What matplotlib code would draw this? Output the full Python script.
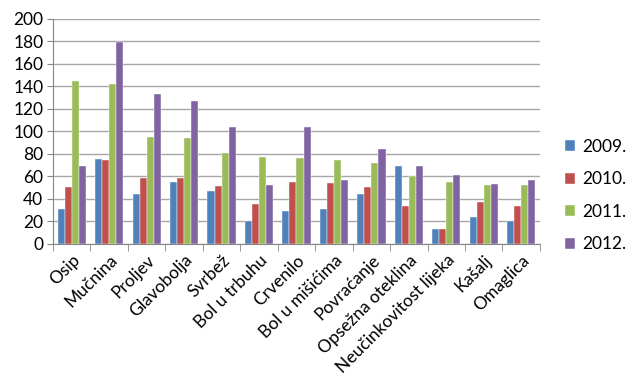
import numpy as np
import matplotlib
matplotlib.use("Agg")
import matplotlib.pyplot as plt

# 数据：各症状按年份的报告数
categories = ['Osip', 'Mučnina', 'Proljev', 'Glavobolja', 'Svrbež', 'Bol u trbuhu',
              'Crvenilo', 'Bol u mišićima', 'Povraćanje', 'Opsežna oteklina',
              'Neučinkovitost lijeka', 'Kašalj', 'Omaglica']
years = ['2009.', '2010.', '2011.', '2012.']
v2009 = [31, 75, 44, 55, 47, 20, 29, 31, 44, 69, 13, 24, 20]
v2010 = [50, 74, 58, 58, 51, 35, 55, 54, 50, 33, 13, 37, 33]
v2011 = [145, 142, 95, 94, 81, 77, 76, 74, 72, 60, 55, 52, 52]
v2012 = [69, 179, 133, 127, 104, 52, 104, 57, 84, 69, 61, 53, 57]
colors = ['#4F81BD', '#C0504D', '#9BBB59', '#8064A2']

plt.rcParams['font.family'] = ['Lato', 'DejaVu Sans']

fig = plt.figure(figsize=(6.39, 3.91), dpi=100)
ax = fig.add_axes([0.083, 0.377, 0.762, 0.575])

x = np.arange(len(categories))
w = 1 / 5.3
series = [v2009, v2010, v2011, v2012]
for i, (vals, c, lab) in enumerate(zip(series, colors, years)):
    ax.bar(x + (i - 1.5) * w, vals, width=w, color=c, label=lab, zorder=3,
           edgecolor='white', linewidth=0.3)

ax.set_xlim(-0.5, len(categories) - 0.5)
ax.set_ylim(0, 200)
ax.set_yticks(range(0, 201, 20))
ax.yaxis.grid(True, color='#A6A6A6', linewidth=1, zorder=0)

# 类别刻度：标签居中，刻度线在类别边界
ax.set_xticks(x)
ax.set_xticklabels(categories, rotation=45, ha='right', rotation_mode='anchor', fontsize=12.5)
ax.set_xticks(np.arange(-0.5, len(categories)), minor=True)
ax.tick_params(axis='x', which='major', length=0, pad=6)
ax.tick_params(axis='x', which='minor', length=5, color='#868686')
ax.tick_params(axis='y', length=4, color='#868686', labelsize=12.5, pad=3)

for s in ['top', 'right']:
    ax.spines[s].set_visible(False)
for s in ['left', 'bottom']:
    ax.spines[s].set_color('#868686')

fig.legend(loc='center left', bbox_to_anchor=(0.884, 0.5), frameon=False,
           fontsize=12.5, handlelength=0.6, handleheight=0.6, handletextpad=0.4,
           labelspacing=0.95, borderpad=0, borderaxespad=0)

fig.savefig('out.png', dpi=100)
